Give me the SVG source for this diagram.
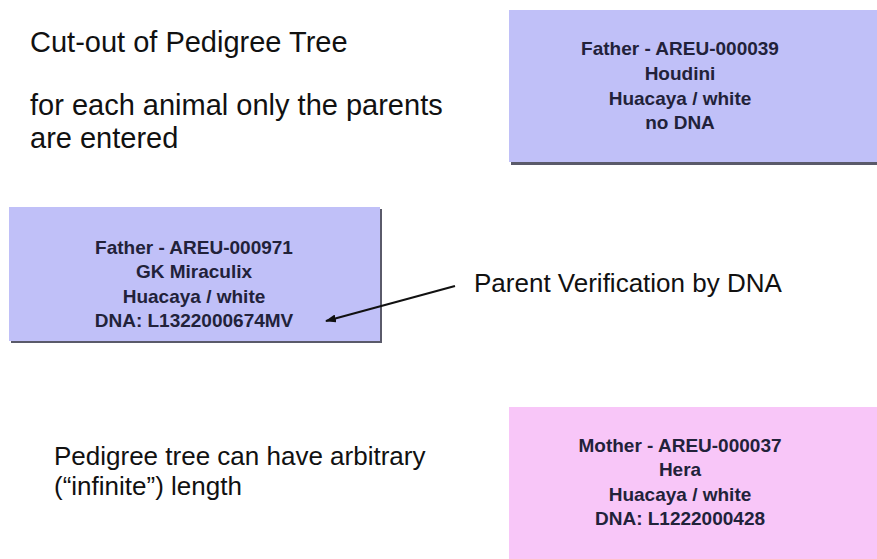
<svg xmlns="http://www.w3.org/2000/svg" width="877" height="559" viewBox="0 0 877 559">
<style>
.note{font-family:"Liberation Sans",Arial,sans-serif;fill:#111}
.lbl{font-family:"Liberation Sans",Arial,sans-serif;font-weight:bold;font-size:19px;fill:#22223a;text-anchor:middle}
.shadow{fill:#5a5a6a}
</style>
<defs>
<marker id="ah" markerWidth="11" markerHeight="8" refX="10" refY="4" orient="auto" markerUnits="userSpaceOnUse">
<path d="M0,0 L11,4 L0,8 Z" fill="#111"/>
</marker>
</defs>
<rect width="877" height="559" fill="#fff"/>
<text class="note" x="30" y="52" font-size="29">Cut-out of Pedigree Tree</text>
<text class="note" x="30" y="115" font-size="29">for each animal only the parents</text>
<text class="note" x="30" y="148" font-size="29">are entered</text>
<g id="father39">
<rect class="shadow" x="511" y="12" width="368" height="153"/>
<rect x="509" y="10" width="368" height="152" fill="#c0c0f8"/>
<text class="lbl" x="680" y="55">Father - AREU-000039</text>
<text class="lbl" x="680" y="80">Houdini</text>
<text class="lbl" x="680" y="105">Huacaya / white</text>
<text class="lbl" x="680" y="129">no DNA</text>
</g>
<g id="father971">
<rect class="shadow" x="11" y="209" width="371" height="134"/>
<rect x="9" y="207" width="371" height="134" fill="#c0c0f8"/>
<text class="lbl" x="194" y="254">Father - AREU-000971</text>
<text class="lbl" x="194" y="278">GK Miraculix</text>
<text class="lbl" x="194" y="303">Huacaya / white</text>
<text class="lbl" x="194" y="327">DNA: L1322000674MV</text>
</g>
<g id="mother37">
<rect x="509" y="407" width="368" height="152" fill="#f8c6f8"/>
<text class="lbl" x="680" y="452">Mother - AREU-000037</text>
<text class="lbl" x="680" y="476">Hera</text>
<text class="lbl" x="680" y="501">Huacaya / white</text>
<text class="lbl" x="680" y="525">DNA: L1222000428</text>
</g>
<text class="note" x="474" y="292" font-size="26">Parent Verification by DNA</text>
<text class="note" x="54" y="465" font-size="26">Pedigree tree can have arbitrary</text>
<text class="note" x="54" y="495" font-size="26">(“infinite”) length</text>
<g id="connectors">
<line x1="455" y1="286" x2="326" y2="321" stroke="#111" stroke-width="2.2" marker-end="url(#ah)"/>
</g>
</svg>
